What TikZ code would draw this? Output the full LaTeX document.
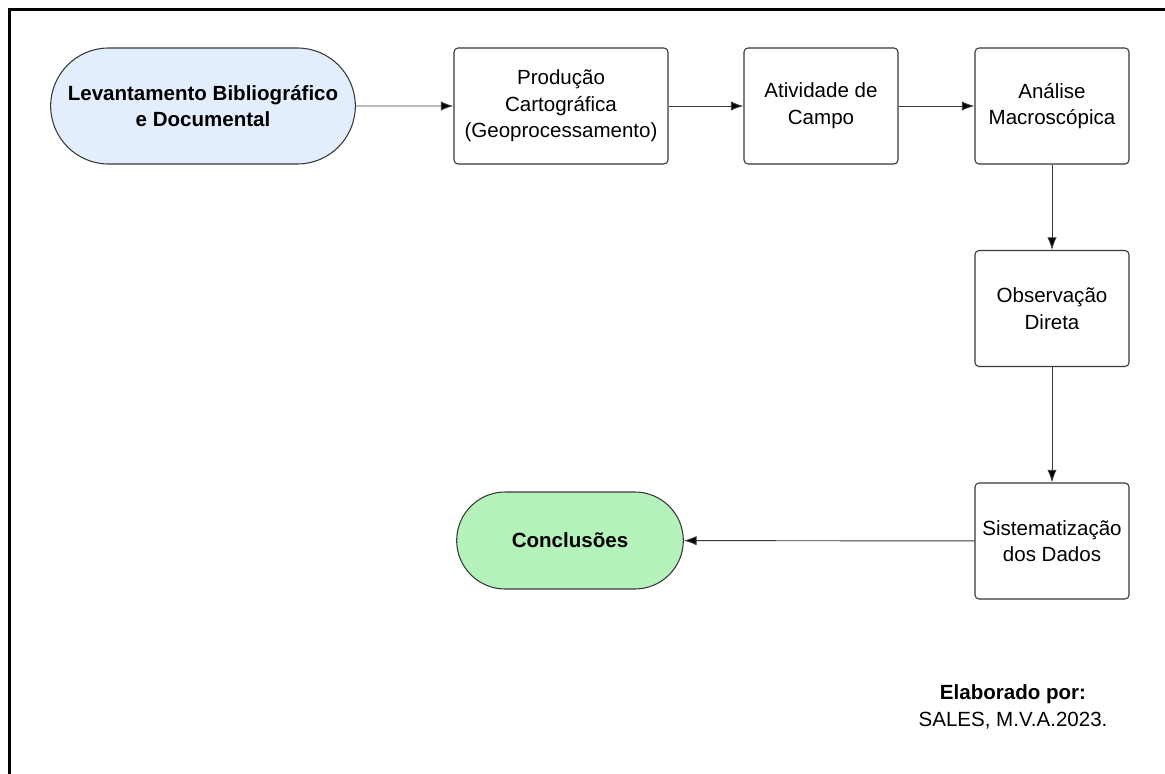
\documentclass[tikz,border=0pt]{standalone}
\usepackage{fontspec}
\setmainfont{Liberation Sans}
\usetikzlibrary{shapes.misc,arrows.meta}

\definecolor{inicioazul}{HTML}{E3EEFC}
\definecolor{fimverde}{HTML}{B5F2BB}
\definecolor{traco}{HTML}{383838}

\newcommand{\fonteDiagrama}{\fontsize{15.4}{20}\selectfont}

\tikzset{
    etapa/.style={draw=traco, line width=0.8pt, rounded corners=3pt, align=center,
        minimum width=115.5pt, minimum height=87pt, inner sep=2pt},
    terminal/.style={rounded rectangle, draw=traco, line width=0.8pt, align=center,
        font=\fonteDiagrama\bfseries, inner sep=2pt},
    seta/.style={draw=traco, line width=0.7pt, -{Latex[length=9.5pt,width=7pt]}}
}

\begin{document}
\begin{tikzpicture}[x=0.75pt, y=-0.75pt, font=\fonteDiagrama]
        \useasboundingbox (0, 0) rectangle (1165, 774);
        % moldura
        \draw[line width=2.3pt, line join=miter] (9.5, 774) -- (9.5, 9.3) -- (1165, 9.3);

        \node[terminal, fill=inicioazul, minimum width=232.5pt, minimum height=87pt] at (203, 106)(lev){Levantamento Bibliográfico\\e Documental};
        \node[etapa, minimum width=160.5pt] at (561, 106)(prod){Produção\\Cartográfica\\(Geoprocessamento)};
        \node[etapa] at (821, 106)(campo){Atividade de\\Campo};
        \node[etapa] at (1052, 106)(analise){Análise\\Macroscópica};
        \node[etapa] at (1052, 308.5)(obs){Observação\\Direta};
        \node[etapa] at (1052, 541)(sist){Sistematização\\dos Dados};
        \node[terminal, fill=fimverde, minimum width=174pt, minimum height=72.75pt] at (570, 540.5)(concl){Conclusões};

        \node[align=center] at (1013, 707)(autor){\textbf{Elaborado por:}\\SALES, M.V.A.2023.};

        \path[seta]
        (lev)edge(prod)
        (prod)edge(campo)
        (campo)edge(analise)
        (analise)edge(obs)
        (obs)edge(sist)
        (sist)edge(concl)
        ;
    \end{tikzpicture}
\end{document}
